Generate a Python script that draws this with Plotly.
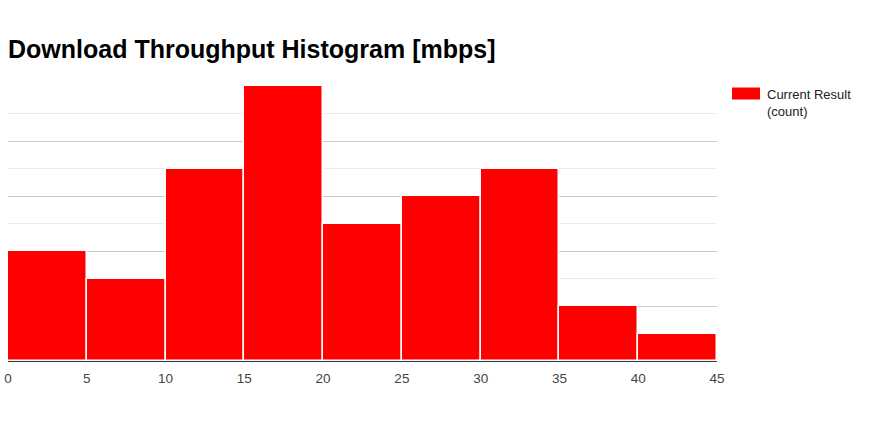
import plotly.graph_objects as go

bin_starts = [0, 5, 10, 15, 20, 25, 30, 35, 40]
bin_width = 5
counts = [4, 3, 7, 10, 5, 6, 7, 2, 1]
x_ticks = [0, 5, 10, 15, 20, 25, 30, 35, 40, 45]
series_name = "Current Result (count)"
title = "Download Throughput Histogram [mbps]"

centers = [s + bin_width / 2 for s in bin_starts]

W, H = 875, 448
L, R, T, B = 8, 158, 86, 87
pw, ph = W - L - R, H - T - B

fig = go.Figure()
fig.add_trace(go.Bar(
    x=centers, y=counts, width=[bin_width] * len(counts),
    name=series_name,
    marker=dict(color="#ff0000", line=dict(color="#ffffff", width=1.5)),
    showlegend=False,
))

fig.update_layout(
    width=W, height=H,
    margin=dict(l=L, r=R, t=T, b=B, autoexpand=False),
    paper_bgcolor="white", plot_bgcolor="white",
    font=dict(family="Liberation Sans, Arial, sans-serif", color="#444444", size=13),
    title=dict(text="<b>" + title + "</b>", x=8 / W, xref="container", xanchor="left",
               y=1 - 58 / H, yref="container", yanchor="bottom",
               font=dict(size=25, color="#000000", family="Liberation Sans, Arial, sans-serif")),
    bargap=0,
    xaxis=dict(range=[0, 45], tickvals=x_ticks, ticktext=[str(v) for v in x_ticks],
               showgrid=False, zeroline=False, showline=True, linecolor="#333333", linewidth=1,
               ticks="", automargin=False, ticklabelstandoff=5, ticklabeloverflow="allow",
               tickfont=dict(size=13.5, color="#444444")),
    yaxis=dict(range=[0, 10.004], dtick=2, showticklabels=False, showgrid=True,
               gridcolor="#cccccc", gridwidth=1, zeroline=False, automargin=False,
               minor=dict(dtick=1, showgrid=True, gridcolor="#ebebeb", gridwidth=1)),
)

# legend drawn manually to match look
def px(x):
    return (x - L) / pw

def py(y):
    return (H - B - y) / ph

fig.add_shape(type="rect", xref="paper", yref="paper",
              x0=px(732), x1=px(760), y0=py(99.5), y1=py(87.5),
              fillcolor="#ff0000", line=dict(width=0))
fig.add_annotation(xref="paper", yref="paper", x=px(765), y=py(85),
                   xanchor="left", yanchor="top", align="left", showarrow=False,
                   text="Current Result<br>(count)",
                   font=dict(size=13, color="#222222", family="Liberation Sans, Arial, sans-serif"))

fig.write_html("out.html", config={"displayModeBar": False},
               post_script="document.body.style.margin='0';")
